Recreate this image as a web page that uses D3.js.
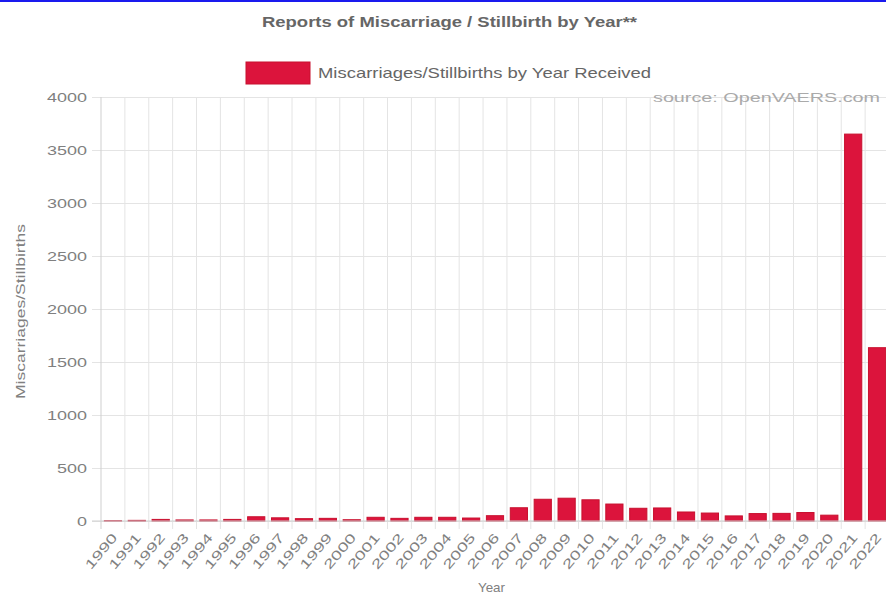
<!DOCTYPE html>
<html>
<head>
<meta charset="utf-8">
<script src="https://cdn.jsdelivr.net/npm/d3@7"></script>
<style>
  body { margin: 0; background: #fff; }
  svg { display: block; font-family: "Liberation Sans", Arial, sans-serif; }
</style>
</head>
<body>
<div id="chart"></div>
<script>
// chart data
var years = ["1990","1991","1992","1993","1994","1995","1996","1997","1998","1999",
             "2000","2001","2002","2003","2004","2005","2006","2007","2008","2009",
             "2010","2011","2012","2013","2014","2015","2016","2017","2018","2019",
             "2020","2021","2022"];
var reports = [3, 6, 15, 10, 10, 15, 40, 30, 22, 25,
               12, 35, 25, 35, 35, 28, 50, 125, 205, 215,
               200, 160, 120, 123, 85, 75, 48, 70, 72, 80,
               55, 3650, 1635];
var yTicks = [0, 500, 1000, 1500, 2000, 2500, 3000, 3500, 4000];

var W = 886, H = 594;
var margin = {top: 97, right: -3, bottom: 73, left: 101},
    width = W - margin.left - margin.right,
    height = H - margin.top - margin.bottom;

var svg = d3.select("#chart").append("svg")
    .attr("width", W)
    .attr("height", H);

// the picture's text is stretched sideways, so widths are fixed with textLength
function stretched(sel, len) {
  return sel.attr("textLength", len).attr("lengthAdjust", "spacingAndGlyphs");
}

// blue rule along the top edge
svg.append("rect")
    .attr("x", 0).attr("y", 0)
    .attr("width", W).attr("height", 2)
    .style("fill", "#1a1aee");

// title
stretched(svg.append("text")
    .attr("x", 262).attr("y", 27)
    .style("font-size", "15px")
    .style("font-weight", "bold")
    .style("fill", "#666")
    .text("Reports of Miscarriage / Stillbirth by Year**"), 375);

// legend
svg.append("rect")
    .attr("x", 246).attr("y", 62)
    .attr("width", 64).attr("height", 22)
    .style("fill", "#dc143c")
    .style("stroke", "#c8102e");
stretched(svg.append("text")
    .attr("x", 318).attr("y", 78)
    .style("font-size", "15px")
    .style("fill", "#666")
    .text("Miscarriages/Stillbirths by Year Received"), 333);

var g = svg.append("g")
    .attr("transform", "translate(" + margin.left + "," + margin.top + ")");

var x = d3.scaleBand()
    .domain(years)
    .range([0, width])
    .paddingInner(0)
    .paddingOuter(0);
var y = d3.scaleLinear()
    .domain([0, 4000])
    .range([height, 0]);

// horizontal gridlines + y axis
g.append("g")
    .call(d3.axisLeft(y).tickValues(yTicks).tickFormat(d3.format("d")).tickSize(-width - 9))
    .call(function(s) {
      s.select(".domain").remove();
      s.selectAll(".tick line").attr("x1", -9).attr("x2", width)
        .style("stroke", "#e4e4e4");
      s.selectAll(".tick text")
        .attr("x", -14)
        .attr("dy", "0.36em")
        .style("font-size", "13px")
        .style("fill", "#808080")
        .style("font-family", "Liberation Sans, Arial, sans-serif")
        .each(function(d) {
          d3.select(this).attr("textLength", String(d).length * 10)
            .attr("lengthAdjust", "spacingAndGlyphs");
        });
    });

// vertical gridlines between categories
g.selectAll(".vgrid")
    .data(years)
    .enter().append("line")
    .attr("class", "vgrid")
    .attr("x1", function(d) { return x(d) + x.bandwidth(); })
    .attr("x2", function(d) { return x(d) + x.bandwidth(); })
    .attr("y1", 0)
    .attr("y2", height + 8)
    .style("stroke", "#e4e4e4");

// left axis line
g.append("line")
    .attr("x1", 0).attr("x2", 0)
    .attr("y1", 0).attr("y2", height + 8)
    .style("stroke", "#cfcfcf");

// bars
var bw = x.bandwidth() * 0.72;
g.selectAll(".bar")
    .data(years)
    .enter().append("rect")
    .attr("class", "bar")
    .attr("x", function(d) { return x(d) + (x.bandwidth() - bw) / 2; })
    .attr("width", bw)
    .attr("y", function(d, i) { return y(reports[i]); })
    .attr("height", function(d, i) { return height - y(reports[i]); })
    .style("fill", "#dc143c")
    .style("stroke", "#c8102e")
    .style("stroke-width", "1");

// zero line
g.append("line")
    .attr("x1", -9).attr("x2", width)
    .attr("y1", height).attr("y2", height)
    .style("stroke", "#cfcfcf");

// x axis labels
g.append("g")
    .attr("transform", "translate(0," + height + ")")
    .call(d3.axisBottom(x).tickSize(0).tickPadding(0))
    .call(function(s) {
      s.select(".domain").remove();
      s.selectAll(".tick text")
        .style("text-anchor", "end")
        .style("font-size", "13px")
        .style("fill", "#808080")
        .style("font-family", "Liberation Sans, Arial, sans-serif")
        .attr("dy", "0")
        .attr("y", 0)
        .attr("textLength", 42)
        .attr("lengthAdjust", "spacingAndGlyphs")
        .attr("transform", "translate(5,17) rotate(-50)");
    });

// source note
stretched(svg.append("text")
    .attr("x", 653).attr("y", 102)
    .style("font-size", "13px")
    .style("fill", "#aaa")
    .text("source: OpenVAERS.com"), 227);

// axis titles
stretched(svg.append("text")
    .attr("transform", "translate(25,312) rotate(-90)")
    .attr("x", -87)
    .style("font-size", "13px")
    .style("fill", "#808080")
    .text("Miscarriages/Stillbirths"), 175);
stretched(svg.append("text")
    .attr("x", 478).attr("y", 592)
    .style("font-size", "13px")
    .style("fill", "#808080")
    .text("Year"), 27);
</script>
</body>
</html>
